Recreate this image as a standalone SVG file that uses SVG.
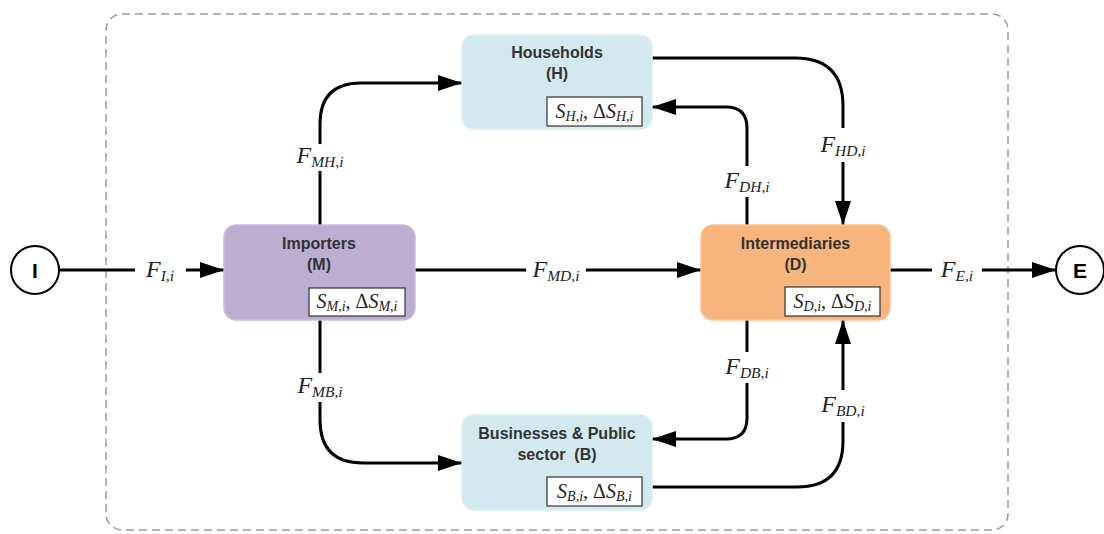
<svg xmlns="http://www.w3.org/2000/svg" width="1104" height="534" viewBox="0 0 1104 534">
<style>
.box{stroke-width:1.5}
.title{font-family:"Liberation Sans",Arial,sans-serif;font-weight:bold;font-size:16px;fill:#333;text-anchor:middle}
.stock{fill:#fff;stroke:#333;stroke-width:1.2}
.st{font-family:"Liberation Serif","Times New Roman",serif;font-size:20px;fill:#222;text-anchor:middle}
.it{font-style:italic}
.sub{font-size:14px;font-style:italic}
.lbl{font-family:"Liberation Serif","Times New Roman",serif;font-size:24px;font-style:italic;fill:#222;text-anchor:middle}
.lsub{font-size:15.5px}
.con{fill:none;stroke:#000;stroke-width:3}
.arr{fill:none;stroke:#000;stroke-width:3;marker-end:url(#ah)}
.circ{fill:#fff;stroke:#000;stroke-width:2}
.ct{font-family:"Liberation Sans",Arial,sans-serif;font-weight:bold;font-size:21px;text-anchor:middle;fill:#000}
</style>
<defs>
<marker id="ah" markerUnits="userSpaceOnUse" markerWidth="26" markerHeight="18" refX="24" refY="8" orient="auto">
<path d="M0,0 L24,8 L0,16 Z" fill="#000"/>
</marker>
</defs>
<rect x="0" y="0" width="1104" height="534" fill="#fff"/>
<rect id="boundary" x="106" y="14" width="902" height="516" rx="16" ry="16" fill="none" stroke="#9a9a9a" stroke-width="1.5" stroke-dasharray="8 5"/>

<g id="connectors">
<path class="con" d="M59,270 H135"/>
<path class="arr" d="M186,270 H224"/>
<path class="con" d="M415,270 H526"/>
<path class="arr" d="M586,270 H701"/>
<path class="con" d="M890,270 H932"/>
<path class="arr" d="M982,270 H1056"/>
<path class="con" d="M320,225 V171"/>
<path class="arr" d="M320,144 V124 Q320,83 361,83 H462"/>
<path class="con" d="M320,320 V373"/>
<path class="arr" d="M320,402 V420 Q320,463 363,463 H462"/>
<path class="con" d="M652,58 H795 Q843,58 843,106 V128"/>
<path class="arr" d="M843,162 V225"/>
<path class="con" d="M747,225 V197"/>
<path class="arr" d="M747,166 V128 Q747,107 726,107 H652"/>
<path class="con" d="M747,320 V352"/>
<path class="arr" d="M747,383 V418 Q747,439 726,439 H652"/>
<path class="con" d="M652,487 H797 Q843,487 843,441 V422"/>
<path class="arr" d="M843,390 V320"/>
</g>

<g id="node-I">
<circle class="circ" cx="35" cy="270" r="24"/>
<text class="ct" x="35" y="277.5">I</text>
</g>
<g id="node-E">
<circle class="circ" cx="1080" cy="270" r="24"/>
<text class="ct" x="1080" y="277.5">E</text>
</g>

<g id="node-M">
<rect class="box" x="224" y="225" width="191" height="95" rx="12" fill="#bcaed0" stroke="#c8bcda"/>
<text class="title" x="319" y="249">Importers</text>
<text class="title" x="319" y="270">(M)</text>
<rect class="stock" x="309" y="288" width="96" height="28"/>
<text class="st" x="357" y="308"><tspan class="it">S</tspan><tspan class="sub" dy="3">M,i</tspan><tspan dy="-3">, Δ</tspan><tspan class="it">S</tspan><tspan class="sub" dy="3">M,i</tspan></text>
</g>

<g id="node-H">
<rect class="box" x="462" y="35" width="190" height="94" rx="12" fill="#d2e9ef" stroke="#d9eef3"/>
<text class="title" x="557" y="58">Households</text>
<text class="title" x="557" y="79">(H)</text>
<rect class="stock" x="547" y="97" width="95" height="29"/>
<text class="st" x="594.5" y="118"><tspan class="it">S</tspan><tspan class="sub" dy="3">H,i</tspan><tspan dy="-3">, Δ</tspan><tspan class="it">S</tspan><tspan class="sub" dy="3">H,i</tspan></text>
</g>

<g id="node-D">
<rect class="box" x="701" y="225" width="189" height="95" rx="12" fill="#f7b47c" stroke="#f9c295"/>
<text class="title" x="795.5" y="249">Intermediaries</text>
<text class="title" x="795.5" y="270">(D)</text>
<rect class="stock" x="785" y="287" width="95" height="29"/>
<text class="st" x="832.5" y="308"><tspan class="it">S</tspan><tspan class="sub" dy="3">D,i</tspan><tspan dy="-3">, Δ</tspan><tspan class="it">S</tspan><tspan class="sub" dy="3">D,i</tspan></text>
</g>

<g id="node-B">
<rect class="box" x="462" y="415" width="190" height="95" rx="12" fill="#d2e9ef" stroke="#d9eef3"/>
<text class="title" x="557" y="439">Businesses &amp; Public</text>
<text class="title" x="557" y="460" xml:space="preserve">sector  (B)</text>
<rect class="stock" x="547" y="477" width="95" height="29"/>
<text class="st" x="594.5" y="498"><tspan class="it">S</tspan><tspan class="sub" dy="3">B,i</tspan><tspan dy="-3">, Δ</tspan><tspan class="it">S</tspan><tspan class="sub" dy="3">B,i</tspan></text>
</g>

<g id="labels">
<text class="lbl" x="160" y="277">F<tspan class="lsub" dy="4">I,i</tspan></text>
<text class="lbl" x="556" y="277">F<tspan class="lsub" dy="4">MD,i</tspan></text>
<text class="lbl" x="957" y="277">F<tspan class="lsub" dy="4">E,i</tspan></text>
<text class="lbl" x="320" y="163">F<tspan class="lsub" dy="4">MH,i</tspan></text>
<text class="lbl" x="320" y="393">F<tspan class="lsub" dy="4">MB,i</tspan></text>
<text class="lbl" x="843" y="152">F<tspan class="lsub" dy="4">HD,i</tspan></text>
<text class="lbl" x="747" y="188">F<tspan class="lsub" dy="4">DH,i</tspan></text>
<text class="lbl" x="747" y="374">F<tspan class="lsub" dy="4">DB,i</tspan></text>
<text class="lbl" x="843" y="412">F<tspan class="lsub" dy="4">BD,i</tspan></text>
</g>
</svg>
